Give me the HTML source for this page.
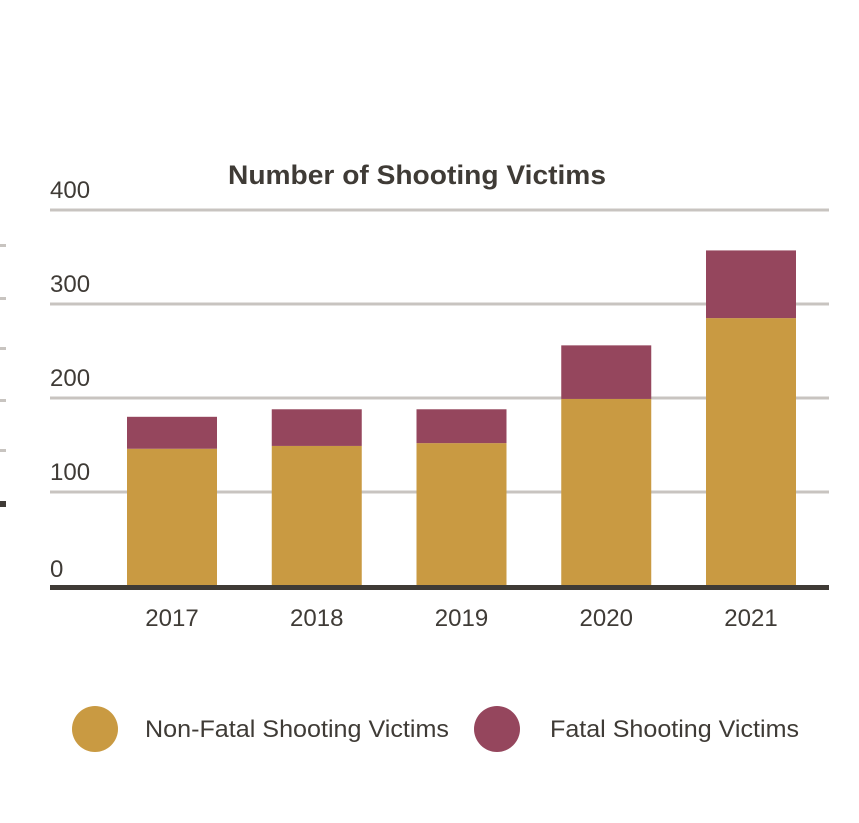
<!DOCTYPE html>
<html><head><meta charset="utf-8"><style>
html,body{margin:0;padding:0;background:#fff}
svg{display:block}
text{font-family:"Liberation Sans",sans-serif;fill:#3f3b36}
</style></head><body>
<svg id="chart" width="859" height="823" viewBox="0 0 859 823">
<text x="417" y="184" text-anchor="middle" font-size="27" font-weight="bold" textLength="378" lengthAdjust="spacingAndGlyphs">Number of Shooting Victims</text>
<g id="side-ticks">
<rect x="0" y="244" width="6" height="3" fill="#c8c4c0"/>
<rect x="0" y="297" width="6" height="3" fill="#c8c4c0"/>
<rect x="0" y="347" width="6" height="3" fill="#c8c4c0"/>
<rect x="0" y="399" width="6" height="3" fill="#c8c4c0"/>
<rect x="0" y="449" width="6" height="3" fill="#c8c4c0"/>
<rect x="0" y="501" width="6" height="6" fill="#3f3b36"/>
</g>
<g id="grid"></g>
<g id="bars"></g>
<g id="xlabels"></g>
<g id="legend">
<circle cx="95" cy="729" r="23" fill="#c99a42"/>
<text x="145" y="737" font-size="24" textLength="304" lengthAdjust="spacingAndGlyphs">Non-Fatal Shooting Victims</text>
<circle cx="497" cy="729" r="23" fill="#95465d"/>
<text x="550" y="737" font-size="24" textLength="249" lengthAdjust="spacingAndGlyphs">Fatal Shooting Victims</text>
</g>
</svg>
<script>
const categories = ["2017","2018","2019","2020","2021"];
const nonFatal = [146, 149, 152, 199, 285];
const fatal = [34, 39, 36, 57, 72];
const yTicks = [0, 100, 200, 300, 400];

const NS = "http://www.w3.org/2000/svg";
const y0 = 586, pxPer = 0.94;
function yScale(v){ return y0 - v * pxPer; }
function xScale(i){ return 127 + i * 144.75; }
const barW = 90;
function mk(tag, attrs, parent){
  const e = document.createElementNS(NS, tag);
  for (const k in attrs) e.setAttribute(k, attrs[k]);
  parent.appendChild(e); return e;
}
const grid = document.getElementById('grid');
yTicks.forEach(t => {
  const y = yScale(t);
  if (t > 0) {
    const l = mk('rect', {x:50, y:y-1.5, width:779, height:3, fill:'#c8c4c0'}, grid);
    
    
  }
  const tx = mk('text', {x:50, y:(t===0? y-9 : y-12), 'font-size':24}, grid);
  tx.textContent = t;
  
  
});
const bars = document.getElementById('bars');
const xl = document.getElementById('xlabels');
categories.forEach((c, i) => {
  const x = xScale(i);
  const nf = mk('rect', {x:x, y:yScale(nonFatal[i]), width:barW, height:yScale(0)-yScale(nonFatal[i]), fill:'#c99a42'}, bars);
  
  
  const tot = nonFatal[i] + fatal[i];
  const f = mk('rect', {x:x, y:yScale(tot), width:barW, height:yScale(nonFatal[i])-yScale(tot), fill:'#95465d'}, bars);
  
  
  const t = mk('text', {x:x+barW/2, y:626, 'text-anchor':'middle', 'font-size':24}, xl);
  t.textContent = c;
  
  
});
const base = mk('rect', {x:50, y:585, width:779, height:5, fill:'#3f3b36'}, bars);


</script>
</body></html>
